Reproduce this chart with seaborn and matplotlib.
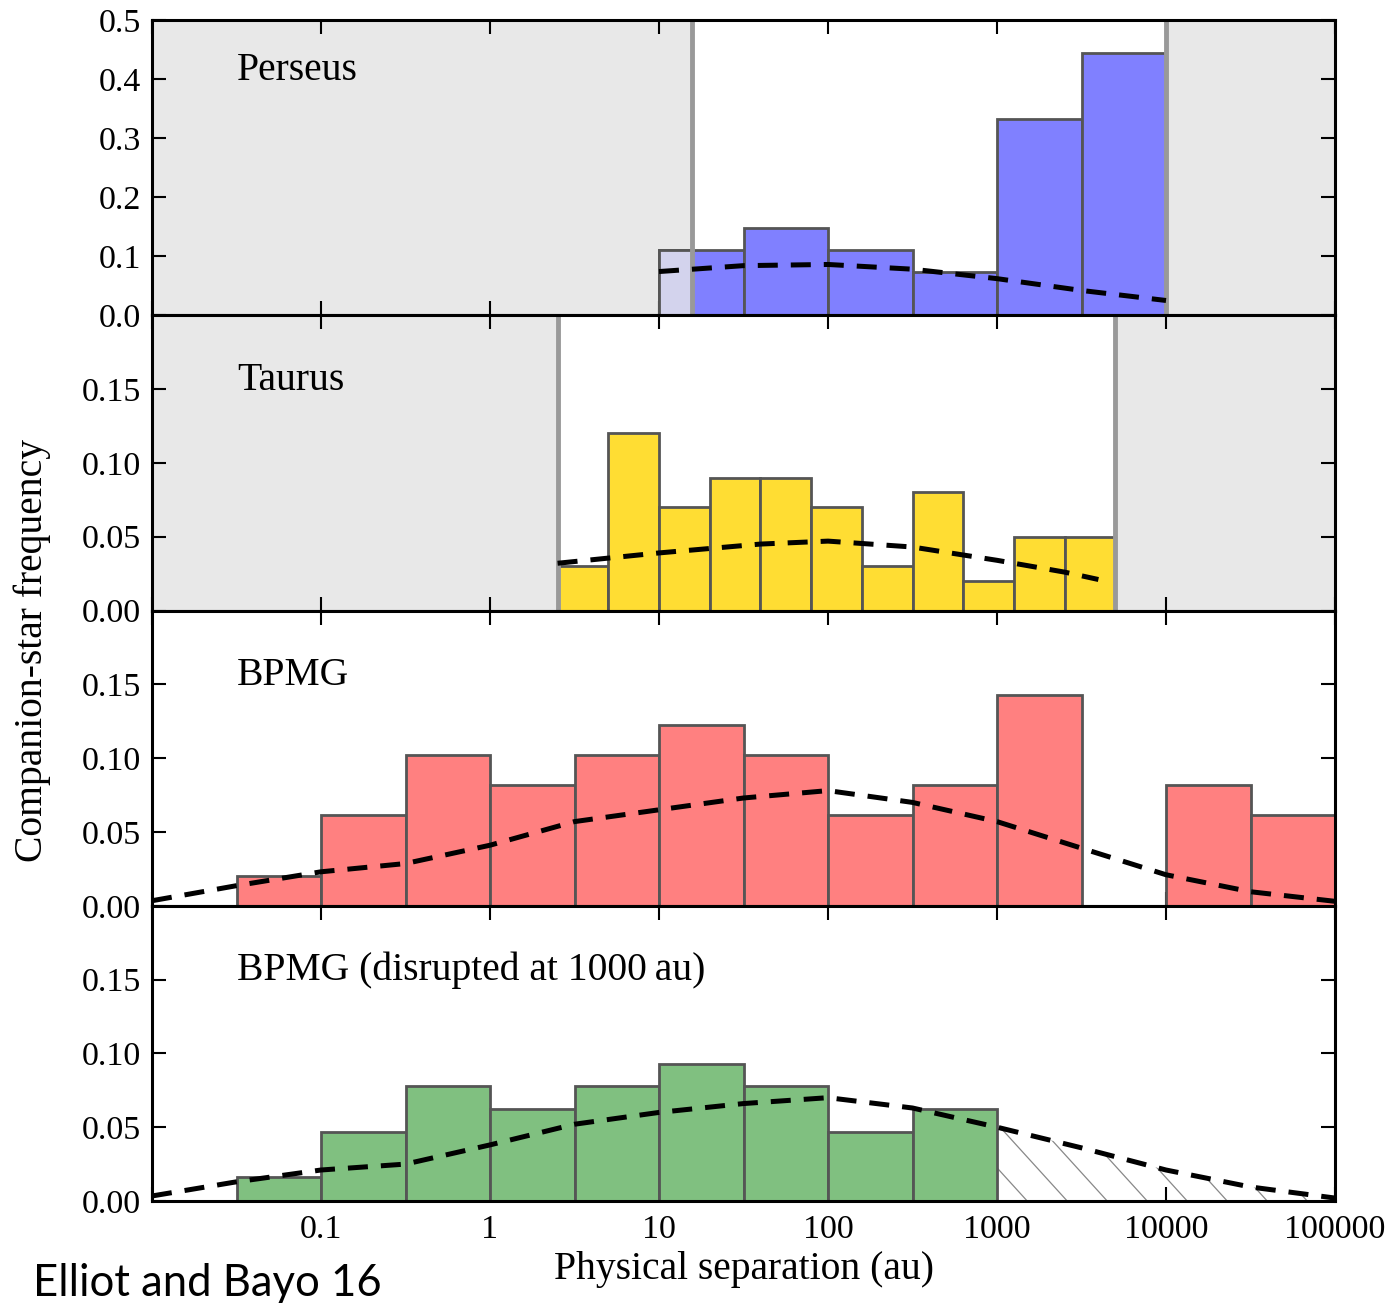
import numpy as np
import pandas as pd
import matplotlib
matplotlib.use("Agg")
import matplotlib.pyplot as plt
import matplotlib.colors as mcolors
import seaborn as sns

# ---------------- data ----------------
panel_names = ["Perseus", "Taurus", "BPMG", "BPMG (disrupted at 1000\u2009au)"]

# bin edges in log10(au)
perseus_edges = [1.0, 1.5, 2.0, 2.5, 3.0, 3.5, 4.0]
perseus_vals = [0.111, 0.148, 0.111, 0.074, 0.333, 0.444]
perseus_curve_logx = [1.0, 1.5, 2.0, 2.5, 3.0, 3.5, 4.0]
perseus_curve_y = [0.074, 0.084, 0.086, 0.078, 0.062, 0.042, 0.025]
perseus_shade = [(-2.0, 1.195), (4.0, 5.0)]

taurus_edges = [0.4, 0.7, 1.0, 1.3, 1.6, 1.9, 2.2, 2.5, 2.8, 3.1, 3.4, 3.7]
taurus_vals = [0.03, 0.12, 0.07, 0.09, 0.09, 0.07, 0.03, 0.08, 0.02, 0.05, 0.05]
taurus_curve_logx = [0.4, 1.0, 1.6, 2.0, 2.5, 3.0, 3.4, 3.6]
taurus_curve_y = [0.032, 0.039, 0.045, 0.047, 0.043, 0.034, 0.026, 0.021]
taurus_shade = [(-2.0, 0.4), (3.7, 5.0)]

bpmg_edges = [-1.5, -1.0, -0.5, 0.0, 0.5, 1.0, 1.5, 2.0, 2.5, 3.0, 3.5, 4.0, 4.5, 5.0]
bpmg_vals = [0.0204, 0.0612, 0.102, 0.0816, 0.102, 0.1224, 0.102, 0.0612,
             0.0816, 0.1429, 0.0, 0.0816, 0.0612]
bpmg_curve_logx = [-2.0, -1.5, -1.0, -0.5, 0.0, 0.5, 1.0, 1.5, 2.0, 2.5, 3.0,
                   3.5, 4.0, 4.5, 5.0]
bpmg_curve_y = [0.0034, 0.0136, 0.023, 0.0286, 0.041, 0.057, 0.065, 0.073,
                0.078, 0.070, 0.057, 0.039, 0.021, 0.0095, 0.003]

disr_edges = [-1.5, -1.0, -0.5, 0.0, 0.5, 1.0, 1.5, 2.0, 2.5, 3.0]
disr_vals = [0.0163, 0.047, 0.0776, 0.062, 0.0776, 0.0925, 0.0776, 0.047, 0.062]
disr_curve_logx = bpmg_curve_logx
disr_curve_y = [0.0034, 0.013, 0.021, 0.025, 0.038, 0.052, 0.060, 0.066,
                0.070, 0.063, 0.050, 0.036, 0.021, 0.0095, 0.002]
disr_hatch_from = 3.0

x_tick_vals = [0.1, 1, 10, 100, 1000, 10000, 100000]
x_tick_labels = ["0.1", "1", "10", "100", "1000", "10000", "100000"]

# ---------------- style ----------------
sns.set_theme(style="ticks")
plt.rcParams["font.family"] = ["Liberation Serif", "DejaVu Serif"]
plt.rcParams["text.color"] = "black"
plt.rcParams["axes.labelcolor"] = "black"

W, H = 1392, 1303
fig = plt.figure(figsize=(W / 100, H / 100), dpi=100)

left_px, right_px, top_px, bot_px = 152, 1335, 20, 1201
ph = (bot_px - top_px) / 4.0

shade_col = "#e8e8e8"
edge_col = "#555555"
colors = ["#8080ff", "#ffdd33", "#ff8080", "#80c080"]

panels = [
    dict(edges=perseus_edges, vals=perseus_vals, cx=perseus_curve_logx, cy=perseus_curve_y,
         shade=perseus_shade, ylim=(0, 0.5), yticks=[0, 0.1, 0.2, 0.3, 0.4, 0.5], fmt="{:.1f}",
         label_y=0.83),
    dict(edges=taurus_edges, vals=taurus_vals, cx=taurus_curve_logx, cy=taurus_curve_y,
         shade=taurus_shade, ylim=(0, 0.2), yticks=[0, 0.05, 0.10, 0.15], fmt="{:.2f}",
         label_y=0.78),
    dict(edges=bpmg_edges, vals=bpmg_vals, cx=bpmg_curve_logx, cy=bpmg_curve_y,
         shade=[], ylim=(0, 0.2), yticks=[0, 0.05, 0.10, 0.15], fmt="{:.2f}", label_y=0.78),
    dict(edges=disr_edges, vals=disr_vals, cx=disr_curve_logx, cy=disr_curve_y,
         shade=[], ylim=(0, 0.2), yticks=[0, 0.05, 0.10, 0.15], fmt="{:.2f}", label_y=0.78),
]

tick_fs = 24.5
lab_fs = 28.5
axes = []
for i, p in enumerate(panels):
    y0 = top_px + i * ph
    ax = fig.add_axes([left_px / W, 1 - (y0 + ph) / H, (right_px - left_px) / W, ph / H])
    axes.append(ax)
    ax.set_xscale("log")
    ax.set_xlim(1e-2, 1e5)
    ax.set_ylim(*p["ylim"])

    # shaded (excluded) regions
    for lo, hi in p["shade"]:
        ax.axvspan(10 ** lo, 10 ** hi, color=shade_col, zorder=0, lw=0)

    # histogram bars
    e = np.array(p["edges"])
    lefts = 10 ** e[:-1]
    rights = 10 ** e[1:]
    ax.bar(lefts, p["vals"], width=rights - lefts, align="edge", color=colors[i],
           edgecolor=edge_col, linewidth=2, zorder=2)
    # bars overlapping shaded regions get a washed-out colour
    blend = np.array(mcolors.to_rgb(colors[i])) * 0.2 + np.array(mcolors.to_rgb(shade_col)) * 0.8
    for lo, hi in p["shade"]:
        for l, r, v in zip(e[:-1], e[1:], p["vals"]):
            ol, orr = max(l, lo), min(r, hi)
            if orr - ol > 0.02 and v > 0:
                ax.bar(10 ** ol, v, width=10 ** orr - 10 ** ol, align="edge", color=blend,
                       edgecolor=edge_col, linewidth=2, zorder=2.5)
    # boundary lines of shaded regions
    for lo, hi in p["shade"]:
        for b in (lo, hi):
            if -2 < b < 5:
                ax.axvline(10 ** b, color="#999999", lw=3.5, zorder=3)

    # dashed model curve
    df = pd.DataFrame({"sep": 10 ** np.array(p["cx"]), "freq": p["cy"]})
    sns.lineplot(data=df, x="sep", y="freq", ax=ax, color="black", lw=3.6, zorder=4,
                 linestyle=(0, (4, 2.6)), legend=False)

    # hatched region in disrupted panel
    if i == 3:
        mask = np.array(p["cx"]) >= disr_hatch_from
        xs = 10 ** np.array(p["cx"])[mask]
        ys = np.array(p["cy"])[mask]
        poly = ax.fill_between(xs, 0, ys, facecolor="none", edgecolor="none", zorder=1)
        path = poly.get_paths()[0]
        aw = right_px - left_px
        dx = (ph / 1.1) / aw
        for u in np.arange(-0.4, 1.05, 40.0 / aw):
            ln, = ax.plot([u, u + dx], [1, 0], transform=ax.transAxes, color="#888888",
                          lw=0.9, zorder=1)
            ln.set_clip_path(path, ax.transData)

    ax.set_xlabel("")
    ax.set_ylabel("")
    ax.set_yticks(p["yticks"])
    ax.set_yticklabels([p["fmt"].format(t) for t in p["yticks"]], fontsize=tick_fs)
    ax.xaxis.set_major_locator(matplotlib.ticker.FixedLocator([0.01] + x_tick_vals))
    ax.xaxis.set_minor_locator(matplotlib.ticker.NullLocator())
    if i == 3:
        ax.set_xticklabels([""] + x_tick_labels, fontsize=tick_fs)
    else:
        ax.set_xticklabels([])
    ax.tick_params(axis="both", which="major", direction="in", length=10, width=1.5,
                   top=True, right=True, pad=8, colors="black")
    ax.tick_params(axis="x", pad=10)
    for s in ax.spines.values():
        s.set_linewidth(2.2)
        s.set_color("black")
        s.set_zorder(5)
    ax.text(0.072, p["label_y"], panel_names[i], transform=ax.transAxes, fontsize=lab_fs,
            va="center", ha="left", zorder=6, color="black")
    ax.set_facecolor("white")

fig.text(0.0235, 1 - 650 / H, "Companion-star frequency", rotation=90, fontsize=lab_fs,
         va="center", ha="center", color="black")
fig.text((left_px + right_px) / 2 / W, 1 - 1270 / H, "Physical separation (au)",
         fontsize=lab_fs, va="center", ha="center", color="black")
fig.text(33 / W, 1 - 1283 / H, "Elliot and Bayo 16", fontsize=31.4,
         family=["Lato", "DejaVu Sans"], va="center", ha="left", color="black")

fig.savefig("out.png", dpi=100)
